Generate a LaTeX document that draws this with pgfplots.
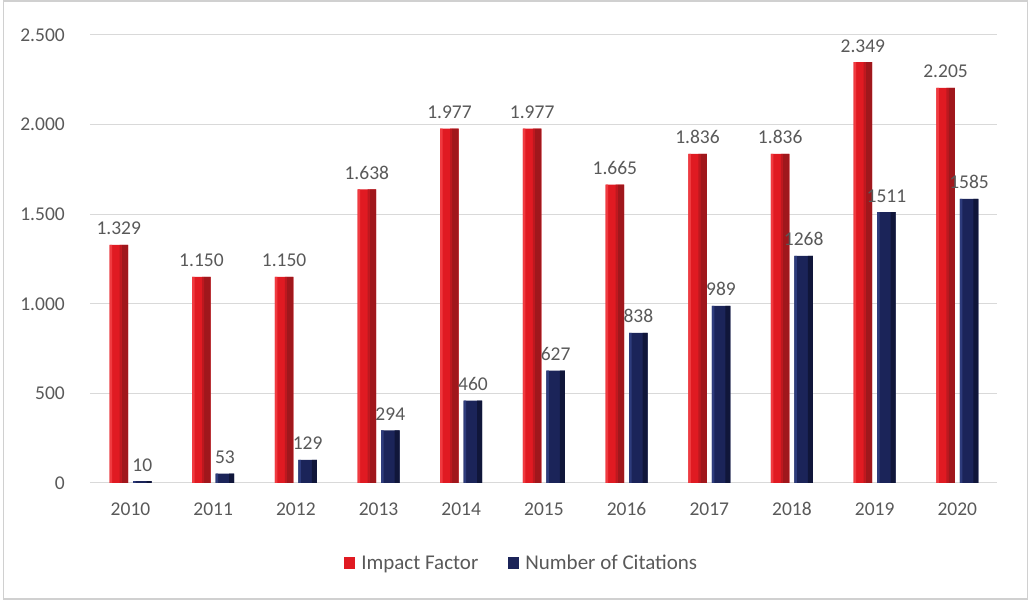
\documentclass[border=0pt]{standalone}
\usepackage{fontspec}
\setmainfont{Carlito}
\usepackage{pgfplots}
\pgfplotsset{compat=1.18}
\definecolor{txt}{HTML}{595959}
\definecolor{gridc}{HTML}{D9D9D9}
\definecolor{framec}{HTML}{D0D0D0}
\definecolor{redL}{HTML}{F03A40}
\definecolor{redM}{HTML}{E01A22}
\definecolor{redD}{HTML}{A0171C}
\definecolor{bluL}{HTML}{2E3C7C}
\definecolor{bluM}{HTML}{1B2459}
\definecolor{bluD}{HTML}{10163A}
\pgfplotstableread{
x if ifl cit
0 1329 1.329 10
1 1150 1.150 53
2 1150 1.150 129
3 1638 1.638 294
4 1977 1.977 460
5 1977 1.977 627
6 1665 1.665 838
7 1836 1.836 989
8 1836 1.836 1268
9 2349 2.349 1511
10 2205 2.205 1585
}\datatable
\begin{document}
\begin{tikzpicture}[x=1pt,y=1pt]
\useasboundingbox (0,0) rectangle (1030,602);
\fill[white] (0,0) rectangle (1030,602);
\draw[framec, line width=1.2pt] (3.5,3) rectangle (1027.5,601);
\begin{axis}[
  at={(90pt,119pt)}, anchor=south west,
  scale only axis, width=907pt, height=448pt,
  xmin=-0.49, xmax=10.48, ymin=0, ymax=2500,
  axis line style={draw=none},
  tick style={draw=none},
  ymajorgrids, major grid style={draw=gridc, line width=1pt},
  ytick={0,500,1000,1500,2000,2500},
  xtick={0,1,2,3,4,5,6,7,8,9,10},
  xticklabels={2010,2011,2012,2013,2014,2015,2016,2017,2018,2019,2020},
  /pgf/number format/assume math mode=true,
  /pgf/number format/1000 sep={.},
  ticklabel style={font=\fontsize{19.5}{22}\selectfont, text=txt},
  yticklabel style={anchor=east, inner sep=0pt, xshift=-25pt},
  xticklabel style={anchor=north, inner sep=0pt, yshift=-15pt},
  ybar,
  every node near coord/.append style={font=\fontsize{19.5}{22}\selectfont, text=txt, anchor=base, inner sep=0pt, yshift=10pt},
  legend image code/.code={\path[#1] (0pt,-6pt) rectangle (11pt,6pt);},
  legend style={draw=none, fill=none, at={(0.476,-0.179)}, anchor=center,
    font=\fontsize{21}{24}\selectfont, text=txt, legend columns=-1,
    /tikz/every odd column/.append style={column sep=4pt},
    /tikz/every even column/.append style={column sep=28pt}},
]
% main bars
\addplot[draw=none, fill=redM, bar width=18.5pt, bar shift=-11.75pt,
  nodes near coords, point meta=explicit symbolic]
  table[x=x, y=if, meta=ifl] {\datatable};
\addlegendentry{Impact Factor}
\addplot[draw=none, fill=bluM, bar width=18.5pt, bar shift=11.75pt,
  nodes near coords, point meta=explicit symbolic]
  table[x=x, y=cit, meta=cit] {\datatable};
\addlegendentry{Number of Citations}
% shading strips (3D look)
\addplot[forget plot, draw=none, fill=redD, bar width=6.5pt, bar shift=-5.75pt]
  table[x=x, y=if] {\datatable};
\addplot[forget plot, draw=none, fill=redD!55!redM, bar width=2pt, bar shift=-10pt]
  table[x=x, y=if] {\datatable};
\addplot[forget plot, draw=none, fill=redL, bar width=2.5pt, bar shift=-19.75pt]
  table[x=x, y=if] {\datatable};
\addplot[forget plot, draw=none, fill=bluD, bar width=5pt, bar shift=18.5pt]
  table[x=x, y=cit] {\datatable};
\addplot[forget plot, draw=none, fill=bluL, bar width=2.5pt, bar shift=3.75pt]
  table[x=x, y=cit] {\datatable};
\end{axis}
\end{tikzpicture}
\end{document}
